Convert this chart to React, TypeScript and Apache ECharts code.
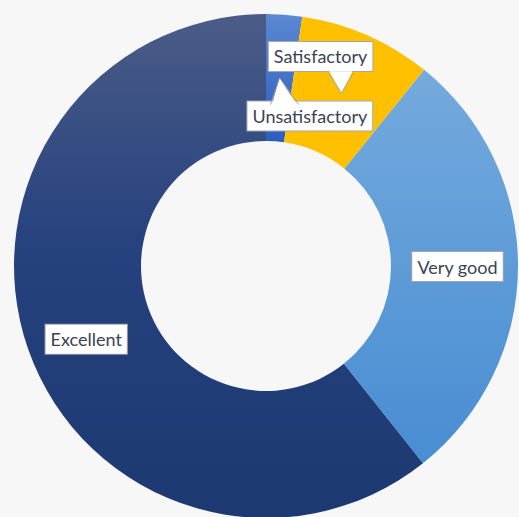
import React, { useEffect, useRef } from "react";
import * as echarts from "echarts";

const categories = ["Unsatisfactory", "Satisfactory", "Very good", "Excellent"];
const values = [2.3, 8.5, 28.5, 60.7];
// label shifts (callout boxes) per category
const labelShiftX = [30, -22, 0, 1];
const labelShiftY = [41, -34, 0, 10];

const CX = 266;
const CY = 266;
const R0 = 125;
const R1 = 252;

function grad(stops: [number, string][]) {
  return new echarts.graphic.LinearGradient(
    0,
    0,
    0,
    1,
    stops.map(([offset, color]) => ({ offset, color }))
  );
}

export default function App() {
  const ref = useRef<HTMLDivElement>(null);

  useEffect(() => {
    if (!ref.current) return;
    const chart = echarts.init(ref.current, null, { renderer: "svg" });

    const fills = [
      grad([
        [0, "#5B87D3"],
        [1, "#2C5EBE"],
      ]),
      "#FFC000",
      grad([
        [0, "#74AADD"],
        [1, "#488DD2"],
      ]),
      grad([
        [0, "#4B5C87"],
        [0.45, "#26427F"],
        [1, "#1D3971"],
      ]),
    ];

    const total = values.reduce((a, b) => a + b, 0);
    const rMid = (R0 + R1) / 2;
    let cum = 0;
    const tips = values.map((v) => {
      const a = ((cum + v / 2) / total) * Math.PI * 2;
      cum += v;
      return [CX + rMid * Math.sin(a), CY - rMid * Math.cos(a)];
    });

    // callout pointers for the two shifted labels
    const pointerDefs = [
      { i: 0, left: -9, right: 19, baseDy: 26.5, dir: 1 },
      { i: 1, left: -13, right: 12, baseDy: -20.5, dir: -1 },
    ];
    const graphics: any[] = [];
    pointerDefs.forEach((p) => {
      const [tx, ty] = tips[p.i];
      const by = ty + p.baseDy;
      graphics.push({
        type: "polygon",
        z: 100,
        silent: true,
        shape: {
          points: [
            [tx, ty],
            [tx + p.left + 0.8, by + p.dir * 1.6],
            [tx + p.right - 0.8, by + p.dir * 1.6],
          ],
        },
        style: { fill: "#ffffff", stroke: "none" },
      });
      graphics.push({
        type: "polyline",
        z: 101,
        silent: true,
        shape: {
          points: [
            [tx + p.left, by],
            [tx, ty],
            [tx + p.right, by],
          ],
        },
        style: { stroke: "#A6A6A6", lineWidth: 1, fill: "none" },
      });
    });

    chart.setOption({
      animation: false,
      backgroundColor: "#F7F7F7",
      graphic: graphics,
      series: [
        {
          type: "pie",
          center: [CX, CY],
          radius: [R0, R1],
          startAngle: 90,
          clockwise: true,
          avoidLabelOverlap: false,
          emphasis: { disabled: true },
          itemStyle: { borderWidth: 0 },
          label: {
            show: true,
            position: "inside",
            formatter: "{b}",
            fontFamily: "Lato",
            fontSize: 18,
            lineHeight: 20,
            color: "#3A4354",
            backgroundColor: "#ffffff",
            borderColor: "#A6A6A6",
            borderWidth: 1,
            padding: [5, 5, 4, 5],
          },
          labelLine: { show: false },
          labelLayout: (params: any) => ({
            dx: labelShiftX[params.dataIndex],
            dy: labelShiftY[params.dataIndex],
          }),
          data: categories.map((name, i) => ({
            name,
            value: values[i],
            itemStyle: { color: fills[i] },
          })),
        },
      ],
    });

    return () => chart.dispose();
  }, []);

  return (
    <div
      ref={ref}
      style={{
        position: "absolute",
        left: 0,
        top: 0,
        width: 519,
        height: 517,
        background: "#F7F7F7",
      }}
    />
  );
}
